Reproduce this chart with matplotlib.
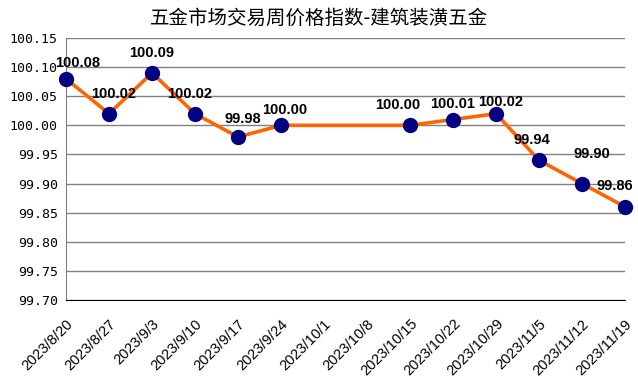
import numpy as np
import matplotlib
matplotlib.use("Agg")
import matplotlib.pyplot as plt

plt.rcParams['font.family'] = ['Liberation Sans', 'Noto Sans CJK SC', 'DejaVu Sans']

title = "五金市场交易周价格指数-建筑装潢五金"
dates = ["2023/8/20", "2023/8/27", "2023/9/3", "2023/9/10", "2023/9/17", "2023/9/24",
         "2023/10/1", "2023/10/8", "2023/10/15", "2023/10/22", "2023/10/29",
         "2023/11/5", "2023/11/12", "2023/11/19"]
values = [100.08, 100.02, 100.09, 100.02, 99.98, 100.00,
          np.nan, np.nan, 100.00, 100.01, 100.02, 99.94, 99.90, 99.86]
yticks = [99.70, 99.75, 99.80, 99.85, 99.90, 99.95, 100.00, 100.05, 100.10, 100.15]

# label offsets in pixels (dx, dy) relative to each point
label_offsets = [(12, 9), (5, 13), (0, 13), (-5, 13), (5, 11), (4, 8),
                 (0, 0), (0, 0), (-12, 13), (0, 9), (5, 5), (-7, 13), (10, 23), (-10, 14)]

fig = plt.figure(figsize=(6.38, 3.86), dpi=100)
ax = fig.add_axes([66/638, 1-300/386, (625-66)/638, (300-38)/386])

x = np.arange(len(dates))
v = np.array(values, dtype=float)
m = ~np.isnan(v)
ax.plot(x[m], v[m], color='#FF6600', lw=2.6, zorder=3, clip_on=False)
ax.plot(x[m], v[m], 'o', color='#000080', ms=10, zorder=4, clip_on=False)

px2pt = 72/100
for xi, vi, (dx, dy) in zip(x, v, label_offsets):
    if np.isnan(vi):
        continue
    ax.annotate(f"{vi:.2f}", (xi, vi), xytext=(dx*px2pt, dy*px2pt), textcoords='offset points',
                ha='center', va='bottom', fontsize=10.5, fontweight='bold',
                family='Liberation Sans', color='black', zorder=5, annotation_clip=False)

ax.set_xlim(0, len(dates)-1)
ax.set_ylim(99.70, 100.15)
ax.set_yticks(yticks)
ax.set_yticklabels([f"{t:.2f}" for t in yticks], family='DejaVu Sans Mono', fontsize=9.5)
ax.set_xticks(x)
ax.set_xticklabels(dates, rotation=45, ha='right', rotation_mode='anchor', fontsize=10.5,
                   family='Liberation Sans')
ax.tick_params(length=0, pad=6)
ax.tick_params(axis='x', pad=12)
for lab in ax.get_xticklabels():
    lab.set_x(lab.get_position()[0])
ax.grid(axis='y', color='#808080', lw=1)
ax.set_axisbelow(True)
for s in ['top', 'right']:
    ax.spines[s].set_visible(False)
ax.spines['left'].set_color('#808080')
ax.spines['bottom'].set_color('black')
ax.spines['bottom'].set_zorder(2.5)

fig.text(0.5, 1-18/386, title, ha='center', va='center', fontsize=14,
         family=['Noto Sans CJK SC', 'DejaVu Sans'])

fig.savefig("out.png", dpi=100)
